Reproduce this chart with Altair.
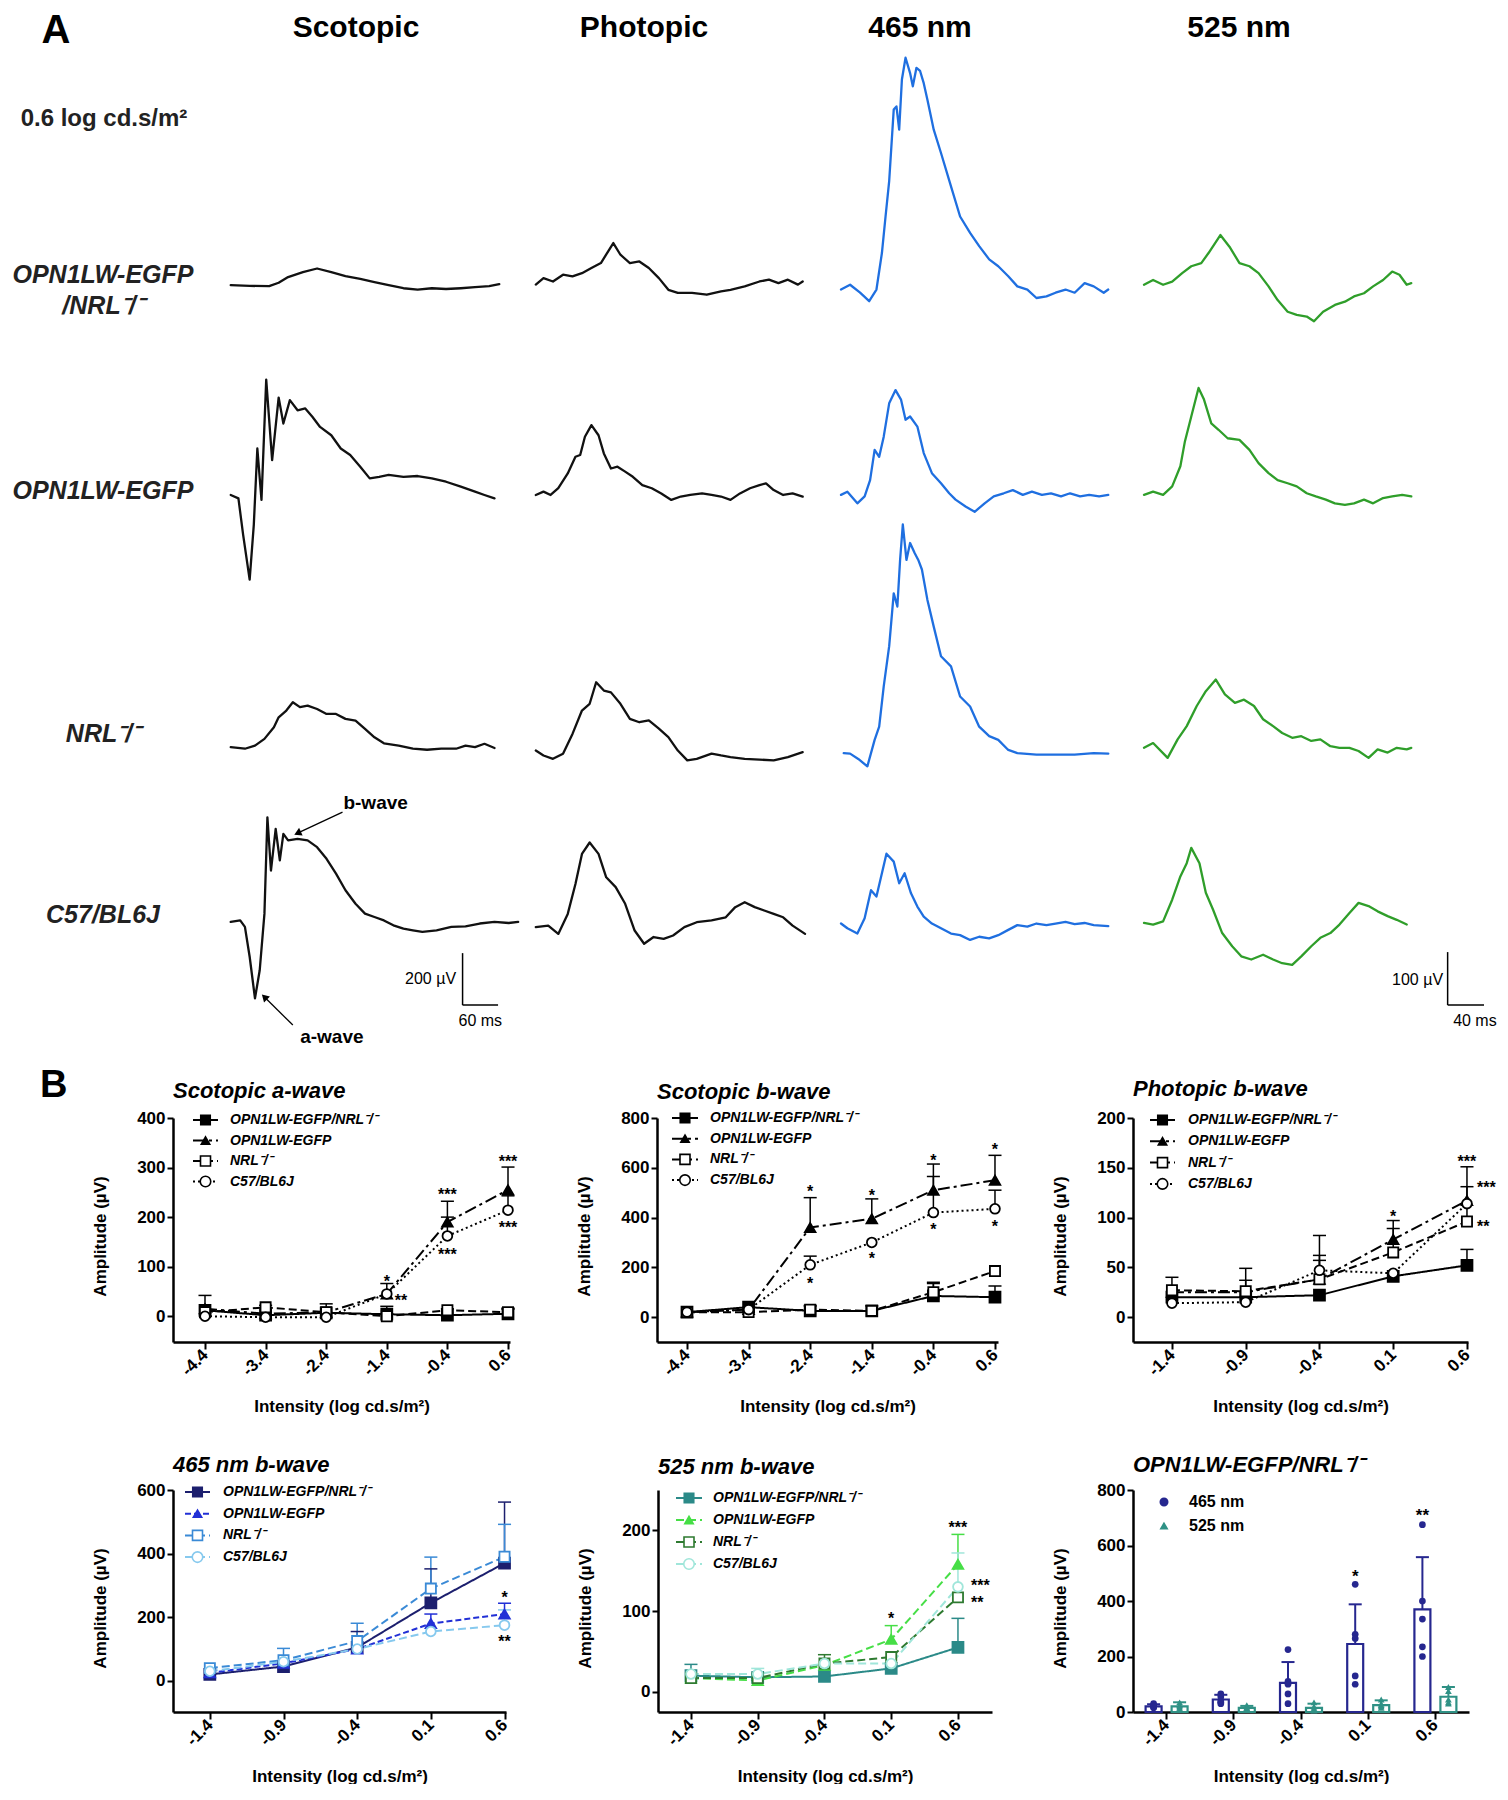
import altair as alt
import numpy as np
import pandas as pd

FONT = "Liberation Sans"

# ======================= Panel A : representative ERG traces =======================
# time in ms from trace start, amplitude in µV relative to the trace baseline
scot_r1_t = [0, 32, 65, 81, 97, 122, 146, 170, 194, 219, 243, 267, 292, 316, 340, 364, 389, 413, 437, 454]
scot_r1_v = [0, -3, -4, 9, 31, 50, 64, 50, 35, 24, 12, 0, -12, -17, -12, -15, -12, -8, -4, 4]
scot_r2_t = [0, 13, 21, 32, 39, 45, 52, 60, 70, 81, 89, 100, 113, 126, 138, 151, 170, 186, 202, 219, 235, 251, 267, 292, 316, 340, 364, 389, 413, 429, 446]
scot_r2_v = [0, -13, -154, -326, -115, 179, -19, 444, 134, 375, 275, 365, 326, 333, 301, 262, 230, 179, 154, 109, 64, 70, 77, 70, 73, 64, 51, 32, 13, 0, -13]
scot_r3_t = [0, 24, 41, 57, 73, 81, 94, 105, 117, 130, 146, 162, 178, 194, 211, 227, 243, 259, 284, 308, 332, 356, 381, 397, 413, 429, 446]
scot_r3_v = [0, -6, 6, 32, 77, 115, 141, 173, 154, 160, 147, 128, 128, 109, 102, 70, 38, 15, 6, -6, -10, -6, -6, 6, 0, 13, -3]
scot_r4_t = [0, 16, 24, 32, 41, 49, 57, 62, 68, 76, 83, 89, 97, 113, 130, 146, 162, 178, 194, 211, 227, 243, 259, 275, 292, 308, 324, 348, 373, 397, 421, 446, 470, 486]
scot_r4_v = [0, 6, -19, -134, -294, -186, 32, 403, 198, 358, 237, 339, 314, 320, 314, 288, 243, 186, 122, 70, 32, 19, 6, -13, -26, -32, -38, -32, -19, -17, -6, 0, -4, 0]

phot_r1_t = [3, 16, 32, 49, 65, 81, 97, 113, 134, 146, 162, 178, 194, 211, 227, 243, 267, 292, 316, 332, 356, 381, 397, 413, 429, 446, 454]
phot_r1_v = [-6, 19, 6, 32, 26, 38, 58, 77, 154, 109, 77, 83, 58, 19, -26, -38, -38, -45, -32, -26, -13, 6, 13, 0, 13, -6, 6]
phot_r2_t = [3, 16, 28, 41, 57, 70, 78, 86, 97, 109, 118, 130, 141, 154, 167, 183, 199, 215, 232, 248, 264, 284, 300, 316, 332, 348, 365, 381, 392, 405, 421, 437, 454]
phot_r2_v = [0, 13, 0, 26, 83, 147, 154, 224, 269, 230, 160, 102, 109, 90, 70, 38, 26, 6, -19, -6, 0, 6, 0, -6, -19, 6, 26, 38, 45, 19, 0, 6, -6]
phot_r3_t = [3, 16, 32, 49, 65, 81, 94, 105, 118, 130, 146, 162, 178, 194, 211, 227, 243, 259, 275, 300, 316, 332, 356, 381, 405, 429, 454]
phot_r3_v = [6, -13, -26, -6, 70, 160, 186, 269, 237, 230, 186, 128, 115, 122, 90, 58, 6, -32, -26, -6, -13, -19, -26, -29, -32, -19, 0]
phot_r4_t = [3, 24, 41, 57, 70, 81, 94, 109, 122, 138, 154, 170, 186, 202, 219, 235, 254, 275, 300, 324, 340, 356, 373, 389, 405, 421, 437, 458]
phot_r4_v = [0, 6, -26, 51, 166, 282, 326, 282, 192, 154, 90, -13, -64, -38, -45, -32, 0, 19, 26, 38, 77, 96, 77, 64, 51, 38, 6, -26]

b465_r1_t = [0, 10, 21, 31, 39, 45, 49, 53, 58, 61, 64, 67, 71, 76, 79, 83, 87, 91, 95, 102, 110, 121, 131, 142, 152, 163, 173, 184, 194, 205, 215, 226, 236, 247, 257, 268, 278, 289, 294]
b465_r1_v = [-3, 6, -9, -25, -3, 66, 135, 202, 337, 343, 299, 394, 435, 406, 381, 416, 410, 387, 356, 299, 255, 192, 135, 104, 79, 54, 41, 22, 3, -3, -19, -16, -9, -3, -9, 9, 3, -9, -3]
b465_r2_t = [0, 7, 18, 26, 32, 37, 42, 47, 53, 60, 66, 71, 76, 84, 91, 100, 110, 119, 126, 137, 147, 158, 168, 179, 189, 200, 210, 221, 231, 242, 252, 263, 273, 284, 294]
b465_r2_v = [0, 6, -16, -3, 28, 85, 72, 110, 173, 198, 180, 142, 148, 129, 79, 41, 22, 3, -9, -22, -32, -16, -3, 3, 9, 0, 6, 0, 3, -3, 3, -3, 0, -3, 0]
b465_r3_t = [3, 10, 19, 29, 37, 42, 47, 53, 58, 62, 65, 68, 72, 76, 81, 85, 89, 95, 102, 110, 121, 131, 142, 152, 163, 173, 184, 194, 215, 236, 257, 278, 294]
b465_r3_v = [0, -1, -11, -25, 25, 50, 126, 202, 302, 277, 365, 432, 365, 397, 378, 365, 347, 290, 239, 183, 164, 107, 88, 50, 32, 25, 6, 0, -3, -3, -3, 0, -1]
b465_r4_t = [0, 7, 18, 26, 33, 39, 45, 50, 58, 64, 70, 77, 84, 91, 100, 110, 121, 131, 142, 152, 163, 173, 184, 194, 205, 215, 226, 236, 247, 257, 268, 278, 294]
b465_r4_v = [3, -6, -16, 13, 66, 54, 98, 135, 120, 79, 98, 60, 35, 16, 3, -6, -16, -19, -28, -22, -25, -19, -9, 0, -3, 3, 0, 3, 6, 2, 4, 0, -2]

b525_r1_t = [0, 10, 21, 31, 42, 52, 63, 71, 84, 94, 105, 116, 126, 137, 147, 158, 168, 179, 187, 197, 210, 221, 231, 242, 252, 263, 273, 281, 289, 294]
b525_r1_v = [-3, 6, -3, 3, 19, 32, 38, 57, 91, 69, 38, 32, 19, -6, -32, -54, -60, -63, -72, -54, -41, -35, -25, -19, -6, 6, 22, 16, -3, 0]
b525_r2_t = [0, 10, 21, 31, 40, 45, 52, 60, 66, 74, 82, 92, 105, 116, 126, 137, 147, 158, 168, 179, 189, 200, 210, 221, 231, 242, 252, 263, 273, 284, 294]
b525_r2_v = [0, 6, 0, 16, 54, 101, 148, 202, 180, 135, 123, 107, 104, 85, 60, 41, 28, 22, 16, 3, -3, -9, -16, -19, -16, -9, -16, -6, -3, 0, -3]
b525_r3_t = [0, 10, 26, 37, 47, 58, 68, 79, 89, 100, 110, 121, 131, 142, 152, 163, 173, 184, 194, 205, 215, 226, 236, 247, 257, 268, 278, 289, 294]
b525_r3_v = [0, 9, -19, 16, 41, 79, 107, 129, 101, 85, 91, 79, 54, 41, 28, 19, 22, 13, 16, 3, 0, 0, -6, -19, -3, -9, 0, -3, 0]
b525_r4_t = [0, 10, 21, 31, 40, 47, 52, 61, 68, 76, 86, 97, 107, 118, 131, 142, 152, 163, 173, 184, 194, 205, 215, 226, 236, 247, 257, 268, 278, 289]
b525_r4_v = [0, -3, 3, 44, 88, 113, 142, 113, 57, 25, -19, -44, -63, -69, -60, -69, -76, -79, -63, -44, -28, -19, -3, 19, 38, 32, 22, 13, 6, -3]

# vertical stacking of the four genotype rows (µV above the bottom row baseline)
scot_offsets = [2460, 1652, 681, 8]
phot_offsets = [2468, 1652, 662, -12]
b465_offsets = [1202, 811, 323, -2]
b525_offsets = [1211, 811, 333, 2]

row_labels = ["OPN1LW-EGFP", "/NRL⁻/⁻", "OPN1LW-EGFP", "NRL⁻/⁻", "C57/BL6J"]
row_label_y = [267, 298, 483, 726, 907]

PA_H = 1042
BLACK_TRACE = "#111111"
BLUE_TRACE = "#1f6fe0"
GREEN_TRACE = "#2f9e2a"


def trace_df(ts, vs, offs):
    parts = []
    for r in range(4):
        d = pd.DataFrame({"row": r, "t": ts[r], "v": vs[r]})
        d["y"] = d["v"] + offs[r]
        parts.append(d)
    return pd.concat(parts, ignore_index=True)


def trace_col(df, color, xdom, ydom, width, header, hx, extras=None):
    xs = alt.Scale(domain=xdom, nice=False, zero=False)
    ys = alt.Scale(domain=ydom, nice=False, zero=False)
    layers = [
        alt.Chart(df).mark_line(color=color, strokeWidth=2.3, strokeJoin="round", strokeCap="round").encode(
            x=alt.X("t:Q", scale=xs, axis=None),
            y=alt.Y("y:Q", scale=ys, axis=None),
            detail="row:N",
        ),
        alt.Chart(pd.DataFrame({"h": [header]})).mark_text(
            font=FONT, fontSize=30, fontWeight="bold", color="black", baseline="middle", align="center"
        ).encode(x=alt.value(hx), y=alt.value(20), text="h:N"),
    ]
    if extras is not None:
        layers += extras(xs, ys)
    return alt.layer(*layers).properties(width=width, height=PA_H)


def scot_extras(xs, ys):
    bars = pd.DataFrame({"t": [392, 392], "t2": [392, 452], "v": [-312, -312], "v2": [-112, -312]})
    arrows = pd.DataFrame({"t": [189, 105], "v": [431, -389], "t2": [113, 57], "v2": [350, -281], "ang": [245, 315]})
    waves = pd.DataFrame({"t": [245, 171], "v": [466, -435], "lab": ["b-wave", "a-wave"]})
    return [
        alt.Chart(bars).mark_rule(color="black", strokeWidth=1.5).encode(
            x=alt.X("t:Q", scale=xs), x2="t2:Q", y=alt.Y("v:Q", scale=ys), y2="v2:Q"),
        alt.Chart(arrows).mark_rule(color="black", strokeWidth=1.3).encode(
            x=alt.X("t:Q", scale=xs), x2="t2:Q", y=alt.Y("v:Q", scale=ys), y2="v2:Q"),
        alt.Chart(arrows).mark_point(shape="triangle-up", filled=True, size=70, color="black", opacity=1).encode(
            x=alt.X("t2:Q", scale=xs), y=alt.Y("v2:Q", scale=ys), angle=alt.Angle("ang:Q", scale=None)),
        alt.Chart(waves).mark_text(font=FONT, fontSize=19, fontWeight="bold", color="black").encode(
            x=alt.X("t:Q", scale=xs), y=alt.Y("v:Q", scale=ys), text="lab:N"),
        alt.Chart(pd.DataFrame({"t": [381], "v": [-212], "lab": ["200 µV"]})).mark_text(
            font=FONT, fontSize=16, color="black", align="right").encode(
            x=alt.X("t:Q", scale=xs), y=alt.Y("v:Q", scale=ys), text="lab:N"),
        alt.Chart(pd.DataFrame({"t": [422], "v": [-372], "lab": ["60 ms"]})).mark_text(
            font=FONT, fontSize=16, color="black", align="center").encode(
            x=alt.X("t:Q", scale=xs), y=alt.Y("v:Q", scale=ys), text="lab:N"),
    ]


def b525_extras(xs, ys):
    bars = pd.DataFrame({"t": [334, 334], "t2": [334, 374], "v": [-153, -153], "v2": [-53, -153]})
    return [
        alt.Chart(bars).mark_rule(color="black", strokeWidth=1.5).encode(
            x=alt.X("t:Q", scale=xs), x2="t2:Q", y=alt.Y("v:Q", scale=ys), y2="v2:Q"),
        alt.Chart(pd.DataFrame({"t": [329], "v": [-106], "lab": ["100 µV"]})).mark_text(
            font=FONT, fontSize=16, color="black", align="right").encode(
            x=alt.X("t:Q", scale=xs), y=alt.Y("v:Q", scale=ys), text="lab:N"),
        alt.Chart(pd.DataFrame({"t": [364], "v": [-183], "lab": ["40 ms"]})).mark_text(
            font=FONT, fontSize=16, color="black", align="center").encode(
            x=alt.X("t:Q", scale=xs), y=alt.Y("v:Q", scale=ys), text="lab:N"),
    ]


scot_df = trace_df([scot_r1_t, scot_r2_t, scot_r3_t, scot_r4_t], [scot_r1_v, scot_r2_v, scot_r3_v, scot_r4_v], scot_offsets)
phot_df = trace_df([phot_r1_t, phot_r2_t, phot_r3_t, phot_r4_t], [phot_r1_v, phot_r2_v, phot_r3_v, phot_r4_v], phot_offsets)
b465_df = trace_df([b465_r1_t, b465_r2_t, b465_r3_t, b465_r4_t], [b465_r1_v, b465_r2_v, b465_r3_v, b465_r4_v], b465_offsets)
b525_df = trace_df([b525_r1_t, b525_r2_t, b525_r3_t, b525_r4_t], [b525_r1_v, b525_r2_v, b525_r3_v, b525_r4_v], b525_offsets)

colA1 = trace_col(scot_df, BLACK_TRACE, [-8, 506], [-485, 3527], 304, "Scotopic", 130, scot_extras)
colA2 = trace_col(phot_df, BLACK_TRACE, [-6.8, 510.3], [-485, 3527], 306, "Photopic", 114)
colA3 = trace_col(b465_df, BLUE_TRACE, [-5.5, 326.7], [-238, 1731], 302, "465 nm", 84)
colA4 = trace_col(b525_df, GREEN_TRACE, [-6.6, 391.6], [-238, 1731], 362, "525 nm", 101, b525_extras)

lab_df = pd.DataFrame({"lab": row_labels, "px": [95] * len(row_labels), "py": row_label_y})
labels_chart = alt.layer(
    alt.Chart(lab_df).mark_text(font=FONT, fontSize=25, fontWeight="bold", fontStyle="italic", color="#222222",
                                align="center", baseline="middle").encode(
        x=alt.X("px:Q", scale=None), y=alt.Y("py:Q", scale=None), text="lab:N"),
    alt.Chart(pd.DataFrame({"lab": ["0.6 log cd.s/m²"]})).mark_text(
        font=FONT, fontSize=24, fontWeight="bold", color="#222222", align="center", baseline="middle").encode(
        x=alt.value(96), y=alt.value(111), text="lab:N"),
    alt.Chart(pd.DataFrame({"lab": ["A"]})).mark_text(
        font=FONT, fontSize=40, fontWeight="bold", color="black", align="center", baseline="top").encode(
        x=alt.value(48), y=alt.value(3), text="lab:N"),
).properties(width=218, height=PA_H)

panelA = alt.hconcat(labels_chart, colA1, colA2, colA3, colA4, spacing=0, bounds="flush")

# ======================= Panel B : intensity-response curves =======================
geno = ["OPN1LW-EGFP/NRL⁻/⁻", "OPN1LW-EGFP", "NRL⁻/⁻", "C57/BL6J"]
x_scot = [-4.4, -3.4, -2.4, -1.4, -0.4, 0.6]
x_phot = [-1.4, -0.9, -0.4, 0.1, 0.6]

# means and upper error caps (mean + SD); None where no error bar is drawn
sa_mean = [[12, 2, 7, 4, 2, 5], [15, 5, 8, 45, 190, 255], [8, 18, 8, 0, 12, 8], [0, -2, -2, 45, 162, 214]]
sa_top = [[None, None, None, 20, None, 16], [42, None, 25, 66, 232, 301], [None, 22, None, None, 15, 14], [None, None, None, None, 200, 243]]
sb_mean = [[20, 40, 25, 25, 85, 80], [20, 30, 360, 395, 510, 550], [20, 20, 30, 25, 100, 185], [20, 30, 210, 300, 420, 435]]
sb_top = [[None, None, None, None, 135, 125], [None, None, 480, 475, 615, 650], [None, None, 45, 45, 140, None], [None, None, 245, None, 565, 510]]
pb_mean = [[20, 20, 22, 41, 52], [25, 25, 38, 78, 117], [27, 26, 38, 65, 96], [14, 15, 47, 44, 114]]
pb_top = [[None, None, None, None, 68], [None, 37, 82, 97, 151], [40, None, 57, 89, 131], [None, 49, 62, None, None]]
n465_mean = [[20, 45, 105, 245, 370], [25, 55, 100, 180, 210], [40, 65, 125, 290, 390], [30, 60, 100, 155, 175]]
n465_top = [[None, None, 155, 352, 562], [None, None, None, 210, 244], [None, 102, 181, 389, 492], [None, None, None, None, 223]]
n525_mean = [[20, 18, 19, 29, 55], [17, 14, 33, 65, 158], [17, 17, 35, 43, 117], [22, 22, 35, 35, 130]]
n525_top = [[34, None, None, None, 91], [None, None, None, 82, 195], [None, None, 46, None, None], [None, 29, None, None, 172]]

# significance stars: (x, y, label)
sa_stars = [(-1.4, 80, "*"), (-0.4, 255, "***"), (-0.4, 133, "***"), (0.6, 321, "***"), (0.6, 188, "***")]
sa_stars_r = [(-1.4, 40, "**")]
sb_stars = [(-2.4, 522, "*"), (-2.4, 154, "*"), (-1.4, 506, "*"), (-1.4, 254, "*"), (-0.4, 649, "*"),
            (-0.4, 372, "*"), (0.6, 693, "*"), (0.6, 381, "*")]
pb_stars = [(0.1, 106, "*"), (0.6, 161, "***")]
pb_stars_r = [(0.6, 135, "***"), (0.6, 96, "**")]
n465_stars = [(0.6, 276, "*"), (0.6, 139, "**")]
n525_stars = [(0.1, 96, "*"), (0.6, 209, "***")]
n525_stars_r = [(0.6, 137, "***"), (0.6, 116, "**")]

black4 = ["black", "black", "black", "black"]
fills_black = ["black", "black", "white", "white"]
dash_bw = [[1, 0], [12, 4, 3, 4], [8, 4], [2, 3]]
shapes4 = ["square", "triangle-up", "square", "circle"]
sizes4 = [120, 95, 140, 150]
col465 = ["#1c1f6e", "#2230d6", "#3a8ad6", "#86c9ee"]
col525 = ["#2b8a88", "#46de46", "#2e7a30", "#a0e6da"]

X_TITLE = "Intensity (log cd.s/m²)"
Y_TITLE = "Amplitude (µV)"

INDEP = dict(color="independent", stroke="independent", fill="independent", shape="independent",
             strokeDash="independent", size="independent")


def axis_x(values=None):
    kw = dict(labelAngle=-45, labelAlign="right", labelBaseline="middle", labelFont=FONT, labelFontSize=17,
              labelFontWeight="bold", labelColor="black", labelPadding=3, labelFlush=False, labelOverlap=False,
              tickSize=7, tickWidth=2, tickColor="black", domainColor="black", domainWidth=2.5, grid=False,
              title=X_TITLE, titleFont=FONT, titleFontSize=17, titleFontWeight="bold", titleColor="black",
              titleY=64, titleBaseline="middle")
    if values is not None:
        kw["values"] = values
        kw["labelExpr"] = "(datum.value < 0 ? '-' : '') + format(abs(datum.value), '.1f')"
    return alt.Axis(**kw)


def axis_y(values):
    return alt.Axis(values=values, format="d", labelFont=FONT, labelFontSize=17, labelFontWeight="bold",
                    labelColor="black", labelPadding=2, labelFlush=False, tickSize=6, tickWidth=2,
                    tickColor="black", domainColor="black", domainWidth=2.5, grid=False,
                    title=Y_TITLE, titleFont=FONT, titleFontSize=17, titleFontWeight="bold", titleColor="black",
                    titleX=-73, titleY=118, titleAngle=270, titleAlign="center", titleBaseline="middle")


def title_params(text, offset):
    return alt.TitleParams(text=text, anchor="start", frame="group", offset=offset, dy=21, baseline="alphabetic",
                           font=FONT, fontSize=22, fontWeight="bold", fontStyle="italic", color="black")


def legend_layers(names, colors, dashes, shapes, fills, sizes, x0, x1, xt, y0, dy, italic=True, line=True, fs=14):
    out = []
    for i, name in enumerate(names):
        d = pd.DataFrame({"g": [name]})
        ly = y0 + i * dy
        if line:
            out.append(alt.Chart(d).mark_rule(color=colors[i], strokeWidth=2, strokeDash=dashes[i]).encode(
                x=alt.value(x0), x2=alt.value(x1), y=alt.value(ly)))
        out.append(alt.Chart(d).mark_point(shape=shapes[i], size=sizes[i], fill=fills[i], stroke=colors[i],
                                           strokeWidth=1.6, opacity=1, fillOpacity=1).encode(
            x=alt.value((x0 + x1) / 2), y=alt.value(ly)))
        out.append(alt.Chart(d).mark_text(font=FONT, fontSize=fs, fontWeight="bold",
                                          fontStyle="italic" if italic else "normal", color="black",
                                          align="left", baseline="middle").encode(
            x=alt.value(xt), y=alt.value(ly), text="g:N"))
    return out


def star_layers(stars, stars_r, xs, ys, right_dx):
    out = []
    if stars:
        d = pd.DataFrame(stars, columns=["x", "y", "s"])
        out.append(alt.Chart(d).mark_text(font=FONT, fontSize=16, fontWeight="bold", color="black",
                                          align="center", baseline="middle", dy=5).encode(
            x=alt.X("x:Q", scale=xs), y=alt.Y("y:Q", scale=ys), text="s:N"))
    if stars_r:
        d = pd.DataFrame(stars_r, columns=["x", "y", "s"])
        out.append(alt.Chart(d).mark_text(font=FONT, fontSize=16, fontWeight="bold", color="black",
                                          align="left", baseline="middle", dx=right_dx, dy=5).encode(
            x=alt.X("x:Q", scale=xs), y=alt.Y("y:Q", scale=ys), text="s:N"))
    return out


def line_panel(title, toff, xs_vals, means, tops, colors, dashes, fills, xdom, ydom, yticks, width, height,
               leg, stars, stars_r, right_dx):
    rows = []
    for gi, g in enumerate(geno):
        for xi, xv in enumerate(xs_vals):
            t = tops[gi][xi]
            rows.append({"g": g, "x": xv, "m": means[gi][xi], "top": np.nan if t is None else t})
    df = pd.DataFrame(rows)
    xs = alt.Scale(domain=xdom, nice=False, zero=False)
    ys = alt.Scale(domain=ydom, nice=False, zero=False)
    cs = alt.Scale(domain=geno, range=colors)
    X = alt.X("x:Q", scale=xs, axis=axis_x(xs_vals))
    Y = alt.Y("m:Q", scale=ys, axis=axis_y(yticks))
    base = alt.Chart(df)
    err = base.transform_filter("isValid(datum.top) && isFinite(datum.top)")
    layers = [
        err.mark_rule(strokeWidth=1.5).encode(X, Y, y2="top:Q", color=alt.Color("g:N", scale=cs, legend=None)),
        err.mark_point(shape="M-1,0L1,0", size=170, strokeWidth=1.5, filled=False, opacity=1).encode(
            X, y=alt.Y("top:Q", scale=ys), stroke=alt.Stroke("g:N", scale=cs, legend=None)),
        base.mark_line(strokeWidth=2).encode(
            X, Y, color=alt.Color("g:N", scale=cs, legend=None),
            strokeDash=alt.StrokeDash("g:N", scale=alt.Scale(domain=geno, range=dashes), legend=None),
            detail="g:N"),
        base.mark_point(strokeWidth=1.8, opacity=1, fillOpacity=1).encode(
            X, Y,
            shape=alt.Shape("g:N", scale=alt.Scale(domain=geno, range=shapes4), legend=None),
            size=alt.Size("g:N", scale=alt.Scale(domain=geno, range=sizes4), legend=None),
            stroke=alt.Stroke("g:N", scale=cs, legend=None),
            fill=alt.Fill("g:N", scale=alt.Scale(domain=geno, range=fills), legend=None)),
    ]
    layers += legend_layers(geno, colors, dashes, shapes4, fills, [90, 70, 100, 110], *leg)
    layers += star_layers(stars, stars_r, xs, ys, right_dx)
    return alt.layer(*layers).properties(width=width, height=height, title=title_params(title, toff))


ch1 = line_panel("Scotopic a-wave", 10, x_scot, sa_mean, sa_top, black4, dash_bw, fills_black,
                 [-4.928, 0.633], [-52, 400], [0, 100, 200, 300, 400], 337, 224,
                 (20, 45, 57, 2, 20.5), sa_stars, sa_stars_r, 8)
ch2 = line_panel("Scotopic b-wave", 9, x_scot, sb_mean, sb_top, black4, dash_bw, fills_black,
                 [-4.887, 0.649], [-100, 800], [0, 200, 400, 600, 800], 341, 224,
                 (15, 41, 53, 0, 20.7), sb_stars, [], 0)
ch3 = line_panel("Photopic b-wave", 12, x_phot, pb_mean, pb_top, black4, dash_bw, fills_black,
                 [-1.664, 0.607], [-25, 200], [0, 50, 100, 150, 200], 335, 224,
                 (17, 42, 55, 2, 21.3), pb_stars, pb_stars_r, 10)
ch4 = line_panel("465 nm b-wave", 8, x_phot, n465_mean, n465_top, col465, [[1, 0], [6, 3], [8, 4], [8, 4]],
                 [col465[0], col465[1], "white", "white"],
                 [-1.65, 0.61], [-98, 600], [0, 200, 400, 600], 333, 222,
                 (12, 37, 50, 2, 21.7), n465_stars, [], 0)
ch5 = line_panel("525 nm b-wave", 15, x_phot, n525_mean, n525_top, col525, [[1, 0], [8, 4], [8, 4], [8, 4]],
                 [col525[0], col525[1], "white", "white"],
                 [-1.647, 0.855], [-25, 250], [0, 100, 200], 334, 222,
                 (18, 44, 55, 8, 22), n525_stars, n525_stars_r, 13)

# ---- bar chart: OPN1LW-EGFP/NRL-/- , 465 vs 525 nm ----
bar_cats = ["-1.4", "-0.9", "-0.4", "0.1", "0.6"]
wl = ["465 nm", "525 nm"]
bar465_mean = [20, 45, 105, 245, 370]
bar465_top = [28, 62, 180, 388, 558]
bar525_mean = [20, 15, 15, 25, 55]
bar525_top = [35, 22, 30, 42, 90]
dots465 = [[15, 20, 25, 30, 18], [30, 40, 55, 65, 35], [225, 110, 100, 65, 30], [460, 280, 265, 130, 100], [675, 400, 335, 235, 200]]
dots525 = [[35, 20, 15, 10, 25], [20, 15, 10, 25, 15], [35, 20, 10, 5, 15], [45, 30, 20, 15, 25], [90, 75, 45, 30, 35]]
bar_stars = [("0.1", "465 nm", 503, "*"), ("0.6", "465 nm", 725, "**")]
wl_colors = ["#26278f", "#2f9185"]

bar_df = pd.DataFrame(
    [{"cat": c, "wl": wl[0], "mean": m, "top": t} for c, m, t in zip(bar_cats, bar465_mean, bar465_top)]
    + [{"cat": c, "wl": wl[1], "mean": m, "top": t} for c, m, t in zip(bar_cats, bar525_mean, bar525_top)])
dot_rows = []
for c, pts in zip(bar_cats, dots465):
    dot_rows += [{"cat": c, "wl": wl[0], "v": p} for p in pts]
for c, pts in zip(bar_cats, dots525):
    dot_rows += [{"cat": c, "wl": wl[1], "v": p} for p in pts]
dot_df = pd.DataFrame(dot_rows)
bstar_df = pd.DataFrame(bar_stars, columns=["cat", "wl", "y", "s"])

bx = alt.X("cat:N", sort=bar_cats, scale=alt.Scale(domain=bar_cats, paddingInner=0, paddingOuter=0), axis=axis_x())
bxo = alt.XOffset("wl:N", scale=alt.Scale(domain=wl, paddingInner=0.385, paddingOuter=0.485))
bys = alt.Scale(domain=[0, 800], nice=False, zero=False)
wcs = alt.Scale(domain=wl, range=wl_colors)
bar_layers = [
    alt.Chart(bar_df).mark_rule(strokeWidth=2).encode(
        bx, bxo, y=alt.Y("mean:Q", scale=bys, axis=axis_y([0, 200, 400, 600, 800])), y2="top:Q",
        color=alt.Color("wl:N", scale=wcs, legend=None)),
    alt.Chart(bar_df).mark_point(shape="M-1,0L1,0", size=170, strokeWidth=2, filled=False, opacity=1).encode(
        bx, bxo, y=alt.Y("top:Q", scale=bys), stroke=alt.Stroke("wl:N", scale=wcs, legend=None)),
    alt.Chart(bar_df).mark_bar(fill="white", strokeWidth=2.2).encode(
        bx, bxo, y=alt.Y("mean:Q", scale=bys), stroke=alt.Stroke("wl:N", scale=wcs, legend=None)),
    alt.Chart(dot_df).mark_point(filled=True, size=45, opacity=1).encode(
        bx, bxo, y=alt.Y("v:Q", scale=bys), color=alt.Color("wl:N", scale=wcs, legend=None),
        shape=alt.Shape("wl:N", scale=alt.Scale(domain=wl, range=["circle", "triangle-up"]), legend=None)),
    alt.Chart(bstar_df).mark_text(font=FONT, fontSize=17, fontWeight="bold", color="black", dy=5).encode(
        bx, bxo, y=alt.Y("y:Q", scale=bys), text="s:N"),
]
bar_layers += legend_layers(wl, wl_colors, [[1, 0], [1, 0]], ["circle", "triangle-up"], wl_colors, [55, 40],
                            31, 31, 56, 12, 24, italic=False, line=False, fs=16)
ch6 = alt.layer(*bar_layers).properties(width=336, height=222,
                                        title=title_params("OPN1LW-EGFP/NRL⁻/⁻", 8))


def spacer(w, h, title=None):
    c = alt.Chart(pd.DataFrame({"s": [""]})).mark_text().encode(text="s:N").properties(width=w, height=h)
    if title is not None:
        c = c.properties(title=alt.TitleParams(text=title, anchor="start", frame="group", offset=18, dx=32, dy=35,
                                               baseline="alphabetic", font=FONT, fontSize=38,
                                               fontWeight="bold", color="black"))
    return c


rowB1 = alt.hconcat(spacer(165, 224, "B"), ch1, spacer(147, 224), ch2, spacer(135, 224), ch3,
                    spacing=0, bounds="flush").resolve_scale(**INDEP)
rowB2 = alt.hconcat(spacer(165, 222), ch4, spacer(152, 222), ch5, spacer(141, 222), ch6,
                    spacing=0, bounds="flush").resolve_scale(**INDEP)

panelB = alt.vconcat(rowB1, rowB2, spacing=40).resolve_scale(**INDEP)

chart = alt.vconcat(panelA, panelB, spacing=17).resolve_scale(**INDEP).properties(
    padding=0).configure_view(strokeWidth=0)

chart.save("out.html", embed_options={"renderer": "svg", "actions": False})
